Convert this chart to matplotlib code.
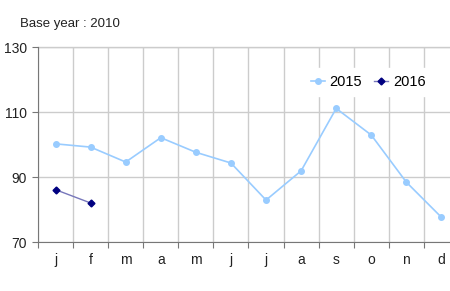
import matplotlib.pyplot as plt
import numpy as np

plt.rcParams["font.family"] = ["Liberation Sans", "DejaVu Sans"]

months = ["j", "f", "m", "a", "m", "j", "j", "a", "s", "o", "n", "d"]
y2015 = [100.2, 99.2, 94.6, 102.1, 97.6, 94.3, 82.9, 91.9, 111.1, 102.9, 88.4, 77.6]
y2016 = [86.1, 82.0]

fig = plt.figure(figsize=(4.5, 2.91), dpi=100)
# plot area runs past the right edge of the picture, like the original
ax = fig.add_axes([38 / 450, 1 - 242 / 291, 421 / 450, 195 / 291])

x = np.arange(len(months))
ax.plot(x, y2015, color="#99ccff", marker="o", markersize=4, linewidth=1.2, label="2015")
ax.plot(x[:len(y2016)], y2016, color="#7777bb", marker="D", markersize=3.5,
        markerfacecolor="#000080", markeredgecolor="#000080", linewidth=1, label="2016")

ax.set_xlim(-0.5, 11.5)
ax.set_ylim(70, 130)
ax.set_yticks([70, 90, 110, 130])
ax.set_xticks(np.arange(-0.5, 12, 1))
ax.set_xticklabels([])
ax.set_xticks(x, minor=True)
ax.set_xticklabels(months, minor=True)
ax.tick_params(axis="x", which="minor", length=0, pad=8, labelsize=10, labelcolor="#222222")
ax.tick_params(axis="x", which="major", length=4, color="#777777")
ax.tick_params(axis="y", length=4, color="#777777", labelsize=10, labelcolor="#222222", pad=4)

ax.grid(True, which="major", color="#cccccc", linewidth=1)
ax.set_axisbelow(True)
for side in ["top", "right"]:
    ax.spines[side].set_visible(False)
ax.spines["left"].set_color("#777777")
ax.spines["bottom"].set_color("#777777")
ax.axhline(130, color="#cccccc", linewidth=1, zorder=0, clip_on=False)

leg = ax.legend(loc="center left", bbox_to_anchor=((304 - 38) / 421, 1 - (82 - 47) / 195),
                ncol=2, frameon=True, fancybox=False, fontsize=10.5, handlelength=1.0,
                handletextpad=0.3, columnspacing=0.8, borderpad=0.45, borderaxespad=0)
leg.get_frame().set_facecolor("white")
leg.get_frame().set_edgecolor("white")
leg.get_frame().set_alpha(1)

fig.text(20 / 450, 1 - 24 / 291, "Base year : 2010", fontsize=9.5, color="#222222", va="center")

fig.savefig("out.png", dpi=100)
